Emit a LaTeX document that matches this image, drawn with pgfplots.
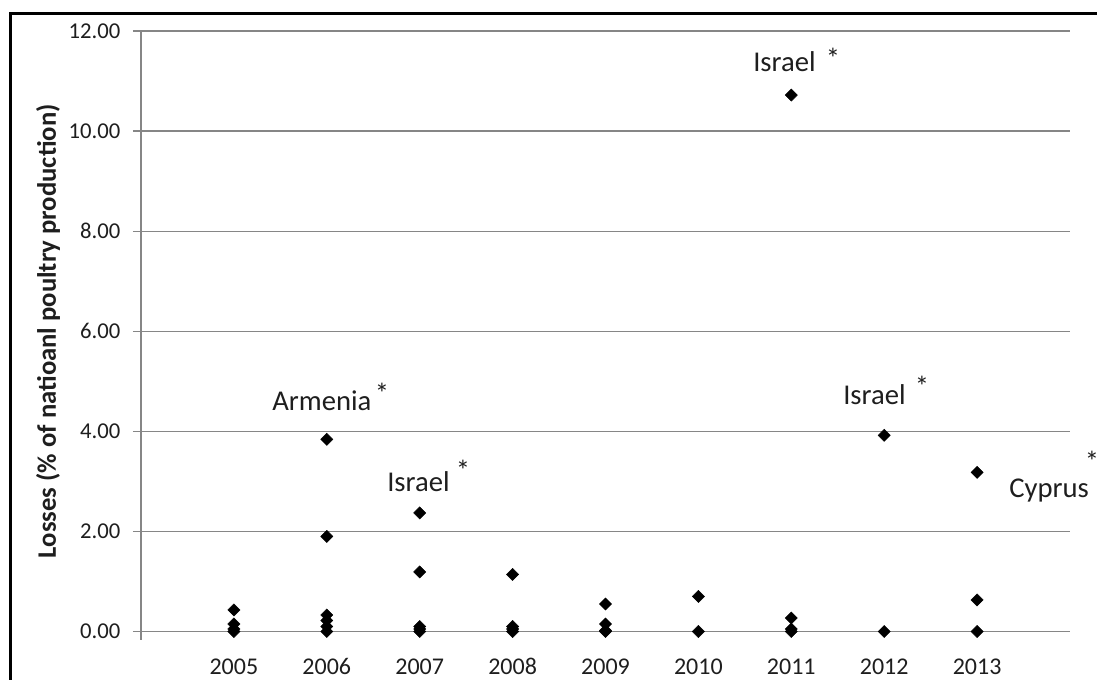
\documentclass[border=0pt]{standalone}
\usepackage{fontspec}
\setmainfont{Carlito}
\usepackage{pgfplots}
\pgfplotsset{compat=1.18}
\definecolor{gridc}{RGB}{134,134,134}
\definecolor{txt}{RGB}{30,30,30}
\newcommand\pp[2]{({#1*0.75pt},{(679-#2)*0.75pt})}
\newcommand\annfont{\fontsize{21.5}{25}\selectfont}
\begin{document}
\begin{tikzpicture}
\begin{axis}[
 scale only axis, width=696.75pt, height=450.375pt,
 at={(105.75pt,35.625pt)}, anchor=south west,
 xmin=-1, xmax=9, ymin=0, ymax=12,
 axis x line*=bottom, axis y line*=left,
 axis line style={gridc, -, line width=0.9pt},
 ymajorgrids, major grid style={gridc, line width=0.9pt},
 ytick={0,2,4,6,8,10,12},
 xtick={0,1,2,3,4,5,6,7,8},
 xticklabels={2005,2006,2007,2008,2009,2010,2011,2012,2013},
 tick align=outside, major tick length=6pt,
 xtick style={draw=none},
 ytick style={gridc, line width=0.9pt},
 /pgf/number format/assume math mode=true,
 yticklabel style={/pgf/number format/.cd, fixed, fixed zerofill, precision=2, /tikz/.cd, font=\fontsize{17}{20}\selectfont, text=txt, xshift=-6pt},
 xticklabel style={font=\fontsize{18}{21}\selectfont, text=txt, anchor=base, yshift=-26.5pt},
 ylabel={Losses (\% of natioanl poultry production)},
 ylabel style={font=\bfseries\fontsize{20}{24}\selectfont, at={(axis description cs:-0.1001,0.5)}, anchor=center, text=txt},
 clip=false
]
\addplot[only marks, mark=square*, mark size=3.2pt, mark options={rotate=45, fill=black, draw=black}] table {
x y
0 0.43
0 0.15
0 0.05
0 0
1 3.84
1 1.90
1 0.33
1 0.22
1 0.10
1 0
2 2.37
2 1.19
2 0.10
2 0.05
2 0
3 1.14
3 0.10
3 0.05
3 0
4 0.55
4 0.15
4 0.02
4 0
5 0.70
5 0
6 10.72
6 0.27
6 0.05
6 0
7 3.92
7 0
8 3.18
8 0.63
8 0
};
\draw[gridc, line width=0.9pt] (axis cs:-1,0) -- ++(0pt,-6pt);
\end{axis}
\begin{scope}[every node/.style={inner sep=0pt, font=\annfont, text=txt}]
\node[anchor=base west] at \pp{272}{411} {Armenia};
\node[anchor=base] at \pp{382}{404} {*};
\node[anchor=base west] at \pp{387}{492} {Israel};
\node[anchor=base] at \pp{463}{481} {*};
\node[anchor=base west] at \pp{753}{72} {Israel};
\node[anchor=base] at \pp{833}{69} {*};
\node[anchor=base west] at \pp{843}{405} {Israel};
\node[anchor=base] at \pp{922}{397} {*};
\node[anchor=base west] at \pp{1009}{498} {Cyprus};
\node[anchor=base] at \pp{1092}{472} {*};
\end{scope}
\draw[line width=2.25pt] \pp{10}{700} -- \pp{10}{13.5} -- \pp{1120}{13.5};
\pgfresetboundingbox
\useasboundingbox \pp{0}{679} rectangle \pp{1097}{0};
\end{tikzpicture}
\end{document}
